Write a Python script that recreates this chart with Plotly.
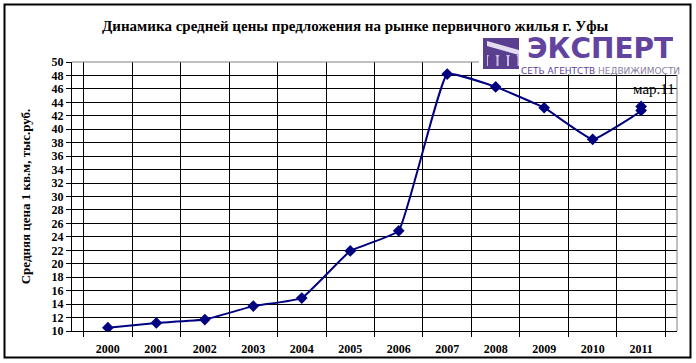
import plotly.graph_objects as go

years = ["2000", "2001", "2002", "2003", "2004", "2005", "2006",
         "2007", "2008", "2009", "2010", "2011", "2011"]
prices = [10.5, 11.2, 11.7, 13.7, 14.9, 21.9, 24.9,
          48.2, 46.3, 43.2, 38.5, 42.8, 43.4]
categories = ["2000", "2001", "2002", "2003", "2004", "2005", "2006",
              "2007", "2008", "2009", "2010", "2011"]
y_ticks = list(range(10, 51, 2))

title_text = "Динамика средней цены предложения на рынке первичного жилья г. Уфы"
y_title = "Средняя цена 1 кв.м, тыс.руб."
note_text = "мар.11"

W, H = 696, 363
L, R, T, B = 72, 677, 62, 331

def px(x):
    return (x - L) / (R - L)

def py(y):
    return (B - y) / (B - T)

fig = go.Figure()
fig.add_trace(go.Scatter(
    x=years, y=prices, mode="lines+markers",
    line=dict(color="#000080", width=2, shape="spline", smoothing=0.3),
    marker=dict(symbol="diamond", size=9, color="#000080"),
    showlegend=False, hoverinfo="skip"))

serif = "Liberation Serif"
fig.update_layout(
    width=W, height=H,
    margin=dict(l=L, r=W - R, t=T, b=H - B, autoexpand=False),
    paper_bgcolor="white", plot_bgcolor="white",
    xaxis=dict(type="category", categoryorder="array", categoryarray=categories,
               tickson="boundaries", showgrid=True, gridcolor="black", gridwidth=1,
               showline=True, linecolor="black", linewidth=1, automargin=False,
               ticks="outside", ticklen=5, tickcolor="black", ticklabelstandoff=7,
               tickfont=dict(family=serif, size=12, color="black", weight="bold"),
               zeroline=False, fixedrange=True),
    yaxis=dict(range=[10, 50], tickvals=y_ticks, showgrid=True, gridcolor="black",
               gridwidth=1, showline=True, linecolor="black", linewidth=1, automargin=False,
               ticks="outside", ticklen=5, tickcolor="black",
               tickfont=dict(family=serif, size=12, color="black", weight="bold"),
               zeroline=False, fixedrange=True,
               title=dict(text=y_title, standoff=18,
                          font=dict(family=serif, size=13, color="black", weight="bold"))),
)

shapes = []
shapes.append(dict(type="line", xref="paper", yref="paper", x0=0, x1=1, y0=1, y1=1,
                   line=dict(color="#808080", width=1), layer="above"))
shapes.append(dict(type="line", xref="paper", yref="paper", x0=1, x1=1, y0=0, y1=1,
                   line=dict(color="#808080", width=1), layer="above"))
shapes.append(dict(type="rect", xref="paper", yref="paper",
                   x0=px(4.5), x1=px(690.5), y0=py(357.5), y1=py(4.5),
                   line=dict(color="black", width=2), layer="above"))

# opaque logo background
shapes.append(dict(type="rect", xref="paper", yref="paper",
                   x0=px(479), x1=px(682), y0=py(74.5), y1=py(34),
                   fillcolor="white", line=dict(width=0), layer="above"))

# logo icon
ix0, ix1, iy0, iy1 = 483, 519, 38, 69
shapes.append(dict(type="rect", xref="paper", yref="paper",
                   x0=px(ix0), x1=px(ix1), y0=py(iy1), y1=py(iy0),
                   fillcolor="#5a3f8e", line=dict(width=0), layer="above"))
band = "M {},{} L {},{} L {},{} L {},{} Z".format(
    px(ix0 + 4), py(iy0 + 3), px(ix1), py(iy0 + 12), px(ix1), py(iy0 + 17), px(ix0 + 4), py(iy0 + 8))
shapes.append(dict(type="path", xref="paper", yref="paper", path=band,
                   fillcolor="#e4dcef", line=dict(width=0), layer="above"))
shapes.append(dict(type="rect", xref="paper", yref="paper",
                   x0=px(ix0 + 4), x1=px(ix1), y0=py(iy1 - 3), y1=py(iy0 + 17),
                   fillcolor="#c9bedf", line=dict(width=0), layer="above"))
for k in range(3):
    ax0 = ix0 + 5 + k * 10.5
    ax1 = ax0 + 8.5
    amid = (ax0 + ax1) / 2
    top = iy0 + 16
    base = iy1 - 3
    p = "M {},{} L {},{} Q {},{} {},{} Q {},{} {},{} L {},{} Z".format(
        px(ax0), py(base), px(ax0), py(top + 4),
        px(ax0), py(top), px(amid), py(top),
        px(ax1), py(top), px(ax1), py(top + 4),
        px(ax1), py(base))
    shapes.append(dict(type="path", xref="paper", yref="paper", path=p,
                       fillcolor="#5a3f8e", line=dict(width=0), layer="above"))
fig.update_layout(shapes=shapes)

ann = []
ann.append(dict(text=title_text, xref="paper", yref="paper", x=px(355), y=py(26),
                showarrow=False, xanchor="center", yanchor="middle",
                font=dict(family=serif, size=15, color="black", weight="bold")))
ann.append(dict(text="ЭКСПЕРТ", xref="paper", yref="paper", x=px(600), y=py(48),
                showarrow=False, xanchor="center", yanchor="middle", height=24,
                font=dict(family="DejaVu Sans", size=28, color="#6243a0", weight="bold")))
ann.append(dict(text="<span style='color:#6243a0'>СЕТЬ АГЕНТСТВ</span> НЕДВИЖИМОСТИ",
                xref="paper", yref="paper", x=px(600), y=py(70.5),
                showarrow=False, xanchor="center", yanchor="middle", height=10,
                font=dict(family="DejaVu Sans", size=9, color="#8a7fa3")))
ann.append(dict(text=note_text, xref="paper", yref="paper", x=px(654), y=py(89),
                showarrow=False, xanchor="center", yanchor="middle",
                font=dict(family=serif, size=15, color="black")))
fig.update_layout(annotations=ann)

fig.write_html("out.html", config={"displayModeBar": False},
               post_script="document.body.style.margin='0';document.body.style.padding='0';document.body.style.overflow='hidden';")
